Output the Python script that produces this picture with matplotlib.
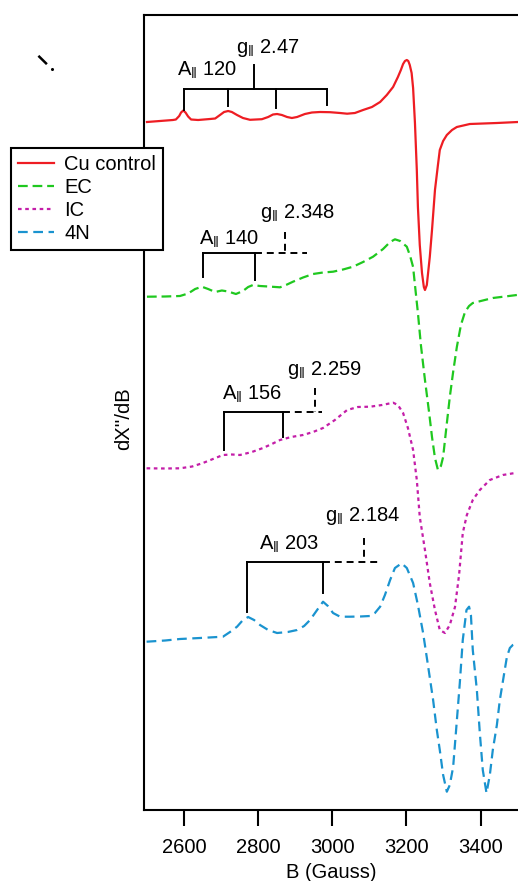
import matplotlib
matplotlib.use("Agg")
import matplotlib.pyplot as plt
from matplotlib.lines import Line2D

plt.rcParams['font.family'] = ['Liberation Sans', 'DejaVu Sans']
plt.rcParams['mathtext.fontset'] = 'custom'
plt.rcParams['mathtext.rm'] = 'Liberation Sans'
plt.rcParams['mathtext.it'] = 'Liberation Sans:italic'
plt.rcParams['mathtext.bf'] = 'Liberation Sans:bold'
plt.rcParams['lines.scale_dashes'] = False

FS = 14.5

# EPR spectra, B in Gauss, dX''/dB in arbitrary units (stacked offsets)
cu_B = [2500, 2570, 2578, 2587, 2592, 2598, 2604, 2611, 2619, 2638, 2670, 2684,
        2697, 2708, 2719, 2729, 2743, 2759, 2778, 2810, 2827, 2840, 2851, 2864,
        2878, 2891, 2905, 2926, 2945, 2967, 2994, 3021, 3040, 3061, 3083, 3107,
        3129, 3147, 3164, 3177, 3185, 3191, 3196, 3201, 3205, 3209, 3214, 3218,
        3223, 3228, 3231, 3236, 3242, 3247, 3250, 3255, 3263, 3269, 3277, 3285,
        3290, 3299, 3309, 3323, 3336, 3371, 3444, 3501]
cu_I = [688, 690, 690.5, 694, 697.5, 699.5, 697.5, 693.5, 690.5, 690, 691, 691.5,
        695, 698, 699, 698, 695, 692, 690.2, 690.8, 693, 695.5, 696, 695,
        693, 692, 693, 696, 697.5, 698, 697.8, 697, 696.3, 697, 700, 703,
        708, 715, 723, 733, 740, 746, 749, 750, 749, 745, 737, 722,
        687, 640, 603, 565, 537, 523, 520, 525, 553, 580, 620, 645,
        660, 669, 675, 680, 683, 686, 687, 688]

ec_B = [2500, 2549, 2589, 2611, 2630, 2648, 2665, 2684, 2702, 2719, 2740, 2759,
        2773, 2786, 2805, 2827, 2859, 2878, 2894, 2921, 2948, 2975, 3002, 3029,
        3056, 3083, 3110, 3137, 3156, 3169, 3183, 3201, 3210, 3218, 3223, 3231,
        3239, 3250, 3261, 3269, 3277, 3285, 3293, 3299, 3307, 3317, 3326, 3336,
        3347, 3358, 3369, 3379, 3406, 3433, 3466, 3498]
ec_I = [513.3, 513.5, 514, 516.5, 521, 523.3, 521, 518, 519.5, 518.5, 516, 519,
        523, 525, 524, 523.5, 522.7, 525.5, 528.3, 532.5, 536, 537.5, 538.3, 540.5,
        543.3, 548, 553.3, 561, 568, 570.7, 569, 563.3, 554, 543, 525, 497,
        465, 430, 398, 373, 352, 340, 344, 353, 380, 413, 438, 463,
        485, 498, 504, 507, 509.5, 512, 513.5, 515]

ic_B = [2499, 2549, 2589, 2622, 2651, 2678, 2705, 2729, 2751, 2783, 2813, 2837,
        2859, 2889, 2921, 2948, 2975, 3007, 3040, 3069, 3102, 3134, 3164, 3177,
        3191, 3204, 3218, 3228, 3236, 3250, 3263, 3277, 3290, 3304, 3317, 3331,
        3342, 3352, 3363, 3379, 3398, 3425, 3460, 3498]
ic_I = [341.7, 341.5, 341.7, 343.5, 347, 351, 355, 355.5, 355, 358, 362, 366,
        370, 373, 375, 378, 382, 390, 400, 403, 403.3, 405, 407.3, 405,
        397, 382, 360, 330, 293, 260, 227, 200, 180, 177, 185, 203,
        235, 277, 295, 310, 320, 330, 335, 337.3]

n4_B = [2499, 2549, 2589, 2643, 2705, 2724, 2743, 2759, 2773, 2789, 2805, 2827,
        2851, 2880, 2905, 2924, 2940, 2959, 2975, 2988, 3002, 3021, 3048, 3075,
        3102, 3115, 3129, 3142, 3156, 3169, 3187, 3201, 3218, 3231, 3245, 3258,
        3272, 3282, 3290, 3299, 3309, 3317, 3326, 3334, 3344, 3352, 3362, 3369,
        3374, 3379, 3390, 3398, 3406, 3416, 3425, 3433, 3444, 3452, 3463, 3471,
        3479, 3487, 3501]
n4_I = [168.3, 169.5, 171, 172, 173.3, 178, 183.3, 190, 193, 190, 185, 180,
        177, 178, 180, 184, 190, 200, 208.3, 204, 197, 193.3, 193.3, 193.5,
        194, 197, 203.3, 215, 230, 242, 246.7, 242, 227, 205, 177, 145,
        110, 80, 60, 35, 18.3, 25, 43, 80, 127, 170, 200, 203.3,
        195, 160, 120, 77, 40, 17, 35, 60, 85, 110, 135, 153,
        162, 165, 167]

# hyperfine stick diagrams
cu_hf = [2600, 2719, 2848, 2986]
cu_hf_end = [700, 704, 702, 705.5]
cu_bar = 720.7
cu_g, cu_g_top = 2789, 745

ec_hf = [2652, 2791]
ec_hf_end = [533, 530]
ec_bar = 556.7
ec_g, ec_g_top, ec_dash_end = 2872, 578.3, 2932

ic_hf = [2708, 2866]
ic_hf_end = [360, 373.3]
ic_bar = 398.3
ic_g, ic_g_top, ic_dash_end = 2953, 422, 2972

n4_hf = [2771, 2976]
n4_hf_end = [198.3, 217]
n4_bar = 247.7
n4_g, n4_g_top, n4_dash_end = 3085, 272, 3129

# label text and anchor (B, level)
a_labels = [r'A$_{\Vert}$ 120', r'A$_{\Vert}$ 140', r'A$_{\Vert}$ 156', r'A$_{\Vert}$ 203']
a_pos = [(2662, 734), (2721, 565), (2785, 410), (2883, 260.7)]
g_labels = [r'g$_{\Vert}$ 2.47', r'g$_{\Vert}$ 2.348', r'g$_{\Vert}$ 2.259', r'g$_{\Vert}$ 2.184']
g_pos = [(2827, 756.7), (2907, 591.7), (2978, 435), (3081, 289.3)]

xticks = [2600, 2800, 3000, 3200, 3400]

fig = plt.figure(figsize=(5.18, 8.81), dpi=100)
ax = fig.add_axes([144 / 518, 1 - 810 / 881, 374 / 518, 795 / 881])

lw = 1.6
l1, = ax.plot(cu_B, cu_I, color='#ee1d23', lw=lw, label='Cu control')
l2, = ax.plot(ec_B, ec_I, color='#1fc81f', lw=lw, label='EC')
l2.set_dashes([7, 3.5])
l3, = ax.plot(ic_B, ic_I, color='#c41ea8', lw=lw, label='IC')
l3.set_dashes([2.6, 2.6])
l4, = ax.plot(n4_B, n4_I, color='#1a93cf', lw=lw, label='4N')
l4.set_dashes([7, 4])

kw = dict(color='black', lw=1.4)
# Cu control sticks
ax.plot([cu_hf[0], cu_hf[-1]], [cu_bar, cu_bar], **kw)
for b, e in zip(cu_hf, cu_hf_end):
    ax.plot([b, b], [cu_bar, e], **kw)
ax.plot([cu_g, cu_g], [cu_bar, cu_g_top], **kw)

for hf, ends, bar, g, gtop, dend in [
        (ec_hf, ec_hf_end, ec_bar, ec_g, ec_g_top, ec_dash_end),
        (ic_hf, ic_hf_end, ic_bar, ic_g, ic_g_top, ic_dash_end),
        (n4_hf, n4_hf_end, n4_bar, n4_g, n4_g_top, n4_dash_end)]:
    ax.plot([hf[0], hf[-1]], [bar, bar], **kw)
    for b, e in zip(hf, ends):
        ax.plot([b, b], [bar, e], **kw)
    d1, = ax.plot([hf[-1], dend], [bar, bar], **kw)
    d1.set_dashes([5, 3.5])
    d2, = ax.plot([g, g], [gtop, bar], **kw)
    d2.set_dashes([5, 3.5])

for s, (x, y) in zip(a_labels, a_pos):
    ax.text(x, y, s, ha='center', va='baseline', fontsize=FS)
for s, (x, y) in zip(g_labels, g_pos):
    ax.text(x, y, s, ha='center', va='baseline', fontsize=FS)

ax.set_xlim(2492, 3501)
ax.set_ylim(0, 795)
ax.set_xticks(xticks)
ax.tick_params(axis='x', direction='out', length=11.5, width=1.5, pad=8.5, labelsize=FS)
ax.tick_params(axis='y', left=False, labelleft=False)
for sp in ['left', 'top', 'bottom']:
    ax.spines[sp].set_linewidth(1.5)
ax.spines['right'].set_visible(False)
ax.set_xlabel('B (Gauss)', fontsize=FS, labelpad=4.5)
ax.set_ylabel("dX''/dB", fontsize=FS)
ax.yaxis.set_label_coords(-0.0294, 0.492)

leg = fig.legend(handles=[l1, l2, l3, l4], loc='upper left',
                 bbox_to_anchor=(11 / 518, 1 - 148 / 881), borderaxespad=0,
                 fontsize=FS, frameon=True, fancybox=False, framealpha=1,
                 edgecolor='black', handlelength=1.8, handletextpad=0.5,
                 labelspacing=0.2, borderpad=0.35)
leg.get_frame().set_linewidth(1.5)

# small stray stroke at top-left of the original figure
fig.add_artist(Line2D([39.3 / 518, 46 / 518], [1 - 56.7 / 881, 1 - 63.3 / 881],
                      lw=1.8, color='black', transform=fig.transFigure))
fig.add_artist(Line2D([51.7 / 518], [1 - 69.3 / 881], marker='o', ms=1.2,
                      color='black', lw=0, transform=fig.transFigure))

fig.savefig('out.png', dpi=100)
